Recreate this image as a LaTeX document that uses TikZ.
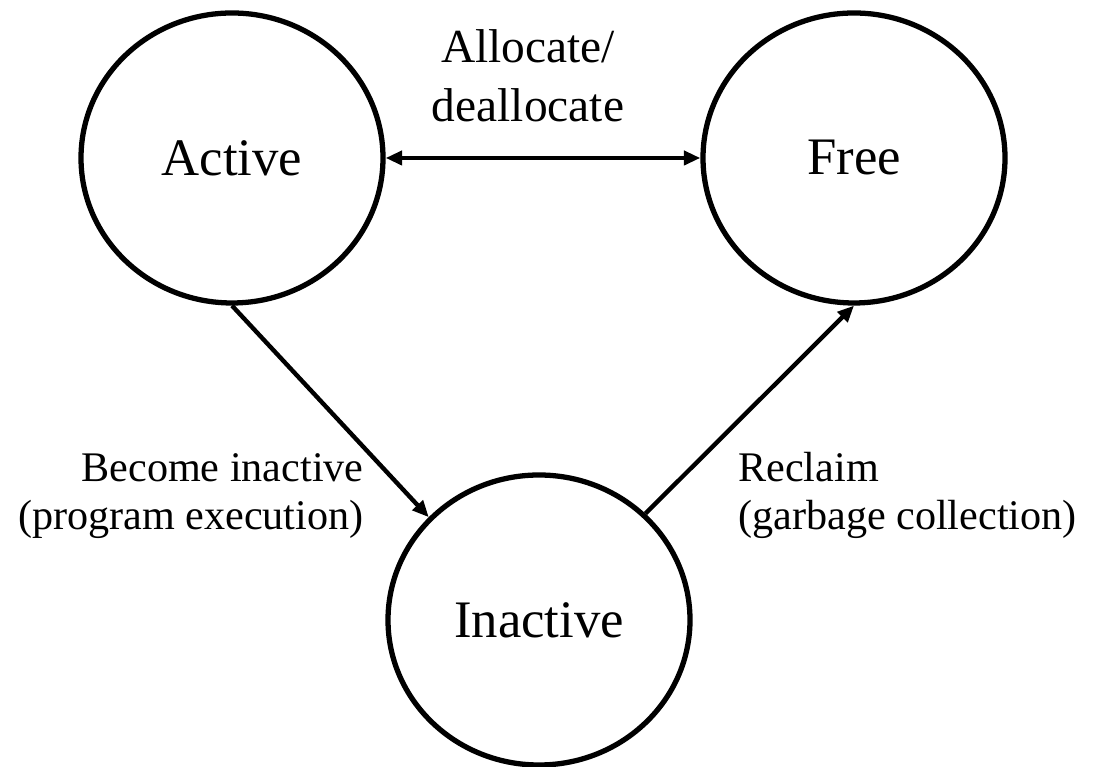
\documentclass[tikz,border=0pt]{standalone}
\usepackage{fontspec}
\setmainfont{Liberation Serif}
\usepackage{tikz}
\usetikzlibrary{arrows.meta,shapes.geometric}

\begin{document}
\begin{tikzpicture}[
    state/.style={draw, ellipse, line width=3pt, minimum width=6.04cm, minimum height=5.8cm, inner sep=0pt, font=\fontsize{30}{36}\selectfont},
    note/.style={inner sep=0pt, font=\fontsize{24}{27.5}\selectfont},
    arrow/.style={-{Triangle[length=3.3mm,width=2.8mm]}, line width=2.5pt}
]
\useasboundingbox (0,0) rectangle (21.86,15.34);

\node[state] (active) at (4.64,12.18) {Active};
\node[state] (free) at (17.08,12.18) {Free};
\node[state] (inactive) at (10.78,2.94) {Inactive};

\draw[arrow, {Triangle[length=3.3mm,width=2.8mm]}-{Triangle[length=3.3mm,width=2.8mm]}] (active.east) -- (free.west);
\draw[arrow] (active.south) -- (inactive.137);
\draw[arrow] (inactive.45) -- (free.south);

% transition labels
\node[note, font=\fontsize{27}{33.6}\selectfont, align=center, anchor=base] (alloc) at (10.56,12.9) {Allocate/\\deallocate};
\node[note, align=right, anchor=base east] (become) at (7.28,4.74) {Become inactive\\(program execution)};
\node[note, align=left, anchor=base west] (reclaim) at (14.76,4.74) {Reclaim\\(garbage collection)};
\end{tikzpicture}
\end{document}
